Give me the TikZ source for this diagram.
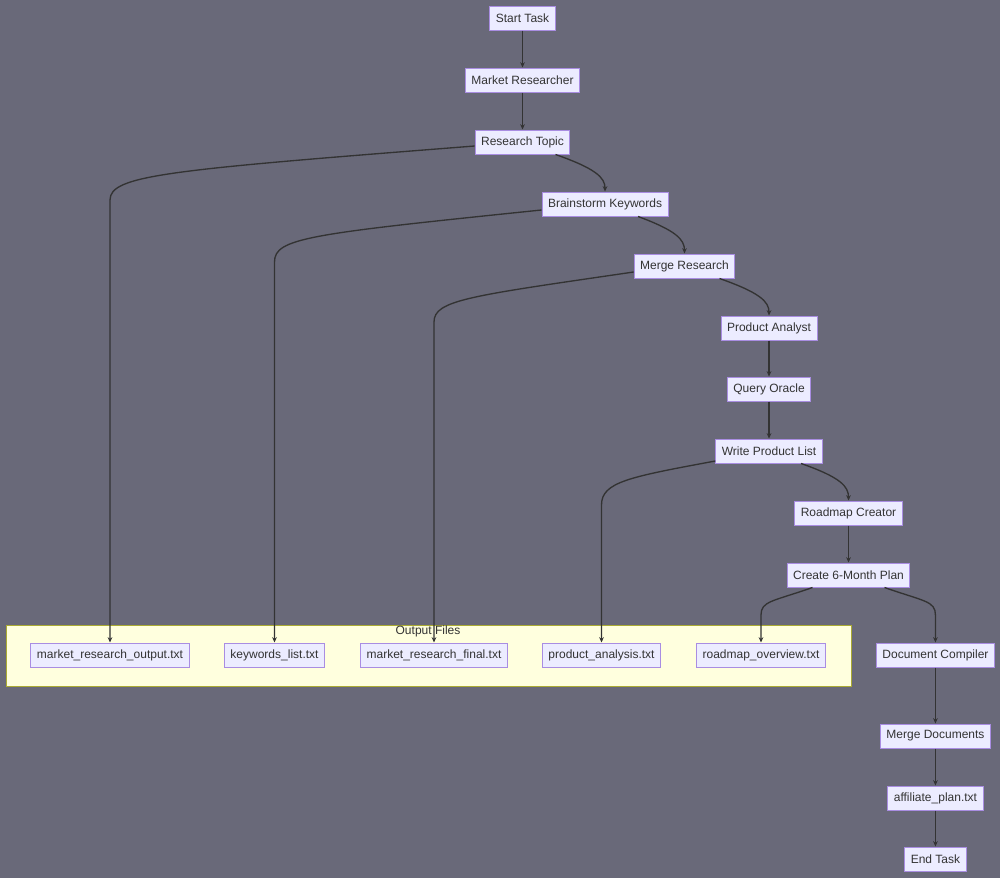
\documentclass[tikz,border=0pt]{standalone}
\usepackage{fontspec}
\setmainfont{Liberation Sans}
\usepackage{xcolor}
\usetikzlibrary{positioning,arrows.meta,calc}
\definecolor{bgc}{HTML}{696979}
\definecolor{taskfill}{HTML}{ECECFF}
\definecolor{taskline}{HTML}{A98DE2}
\definecolor{txt}{HTML}{333333}
\definecolor{clfill}{HTML}{FFFFDE}
\definecolor{clline}{HTML}{AAAA33}
\tikzset{
  task/.style={draw=taskline,fill=taskfill,text=txt,font=\fontsize{9}{11}\selectfont,minimum height=18pt,inner xsep=4.5pt,inner ysep=0pt,line width=0.75pt},
  flow/.style={-{Stealth[length=4pt,width=3.5pt]},draw=txt,line width=1pt}
}

\begin{document}
\begin{tikzpicture}[x=0.75pt,y=-0.75pt,node distance=46.5pt,on grid]
      \fill[bgc] (0,0) rectangle (1000,878);
      \useasboundingbox (0,0) rectangle (1000,878);
      \draw[clline,fill=clfill,line width=0.75pt] (6,625) rectangle (851,686);
      \node[text=txt,font=\fontsize{9}{11}\selectfont] (outfiles) at (428,631) {Output Files};
      \node[task] (st) at (522.5,18) {Start Task};
      \node[task,below =of st] (mr) {Market Researcher};
      \node[task,below =of mr] (rt) {Research Topic};
      \node[task,below right =46.5pt and 61.9pt of rt] (bk) {Brainstorm Keywords};
      \node[task,below right =46.5pt and 59.6pt of bk] (ms) {Merge Research};
      \node[task,below right =46.5pt and 63.4pt of ms] (pa) {Product Analyst};
      \node[task,below =45.75pt of pa] (qo) {Query Oracle};
      \node[task,below =of qo] (wp) {Write Product List};
      \node[task,below right =46.5pt and 59.6pt of wp] (rc) {Roadmap Creator};
      \node[task,below =of rc] (cp) {Create 6-Month Plan};
      \node[task,below right =60pt and 65.2pt of cp] (dc) {Document Compiler};
      \node[task,below =60.75pt of dc] (md) {Merge Documents};
      \node[task,below =of md] (ap) {affiliate\_plan.txt};
      \node[task,below =45.75pt of ap] (et) {End Task};
      \node[task] (f1) at (110,655) {market\_research\_output.txt};
      \node[task] (f2) at (274.5,655) {keywords\_list.txt};
      \node[task] (f3) at (434,655) {market\_research\_final.txt};
      \node[task] (f4) at (601.5,655) {product\_analysis.txt};
      \node[task] (f5) at (761,655) {roadmap\_overview.txt};
      \path[flow]
      (st) edge (mr)
      (mr) edge (rt)
      (pa) edge (qo)
      (qo) edge (wp)
      (rc) edge (cp)
      (dc) edge (md)
      (md) edge (ap)
      (ap) edge (et)
      ;
      \draw[flow] ($(rt.west)+(0,4)$) .. controls +(-306,24) and +(0,-25) .. (f1.north |- 0,200) -- (f1.north);
      \draw[flow] ($(bk.west)+(0,6)$) .. controls +(-233,24) and +(0,-24) .. (f2.north |- 0,262) -- (f2.north);
      \draw[flow] ($(ms.west)+(0,6)$) .. controls +(-164,24) and +(0,-22) .. (f3.north |- 0,322) -- (f3.north);
      \draw[flow] ($(wp.west)+(0,10)$) .. controls +(-86,16) and +(0,-23) .. (f4.north |- 0,505) -- (f4.north);
      \draw[flow] ($(rt.south)+(33,0)$) .. controls +(40,14) and +(0,-14) .. (bk.north);
      \draw[flow] ($(bk.south)+(33,0)$) .. controls +(38,14) and +(0,-14) .. (ms.north);
      \draw[flow] ($(ms.south)+(35,0)$) .. controls +(40,14) and +(0,-14) .. (pa.north);
      \draw[flow] ($(wp.south)+(32,0)$) .. controls +(40,14) and +(0,-14) .. (rc.north);
      \draw[flow] ($(cp.south)+(-36,0)$) .. controls +(-40,14) and +(0,-14) .. (f5.north |- 0,615) -- (f5.north);
      \draw[flow] ($(cp.south)+(36,0)$) .. controls +(40,14) and +(0,-14) .. (dc.north |- 0,615) -- (dc.north);
\end{tikzpicture}
\end{document}
